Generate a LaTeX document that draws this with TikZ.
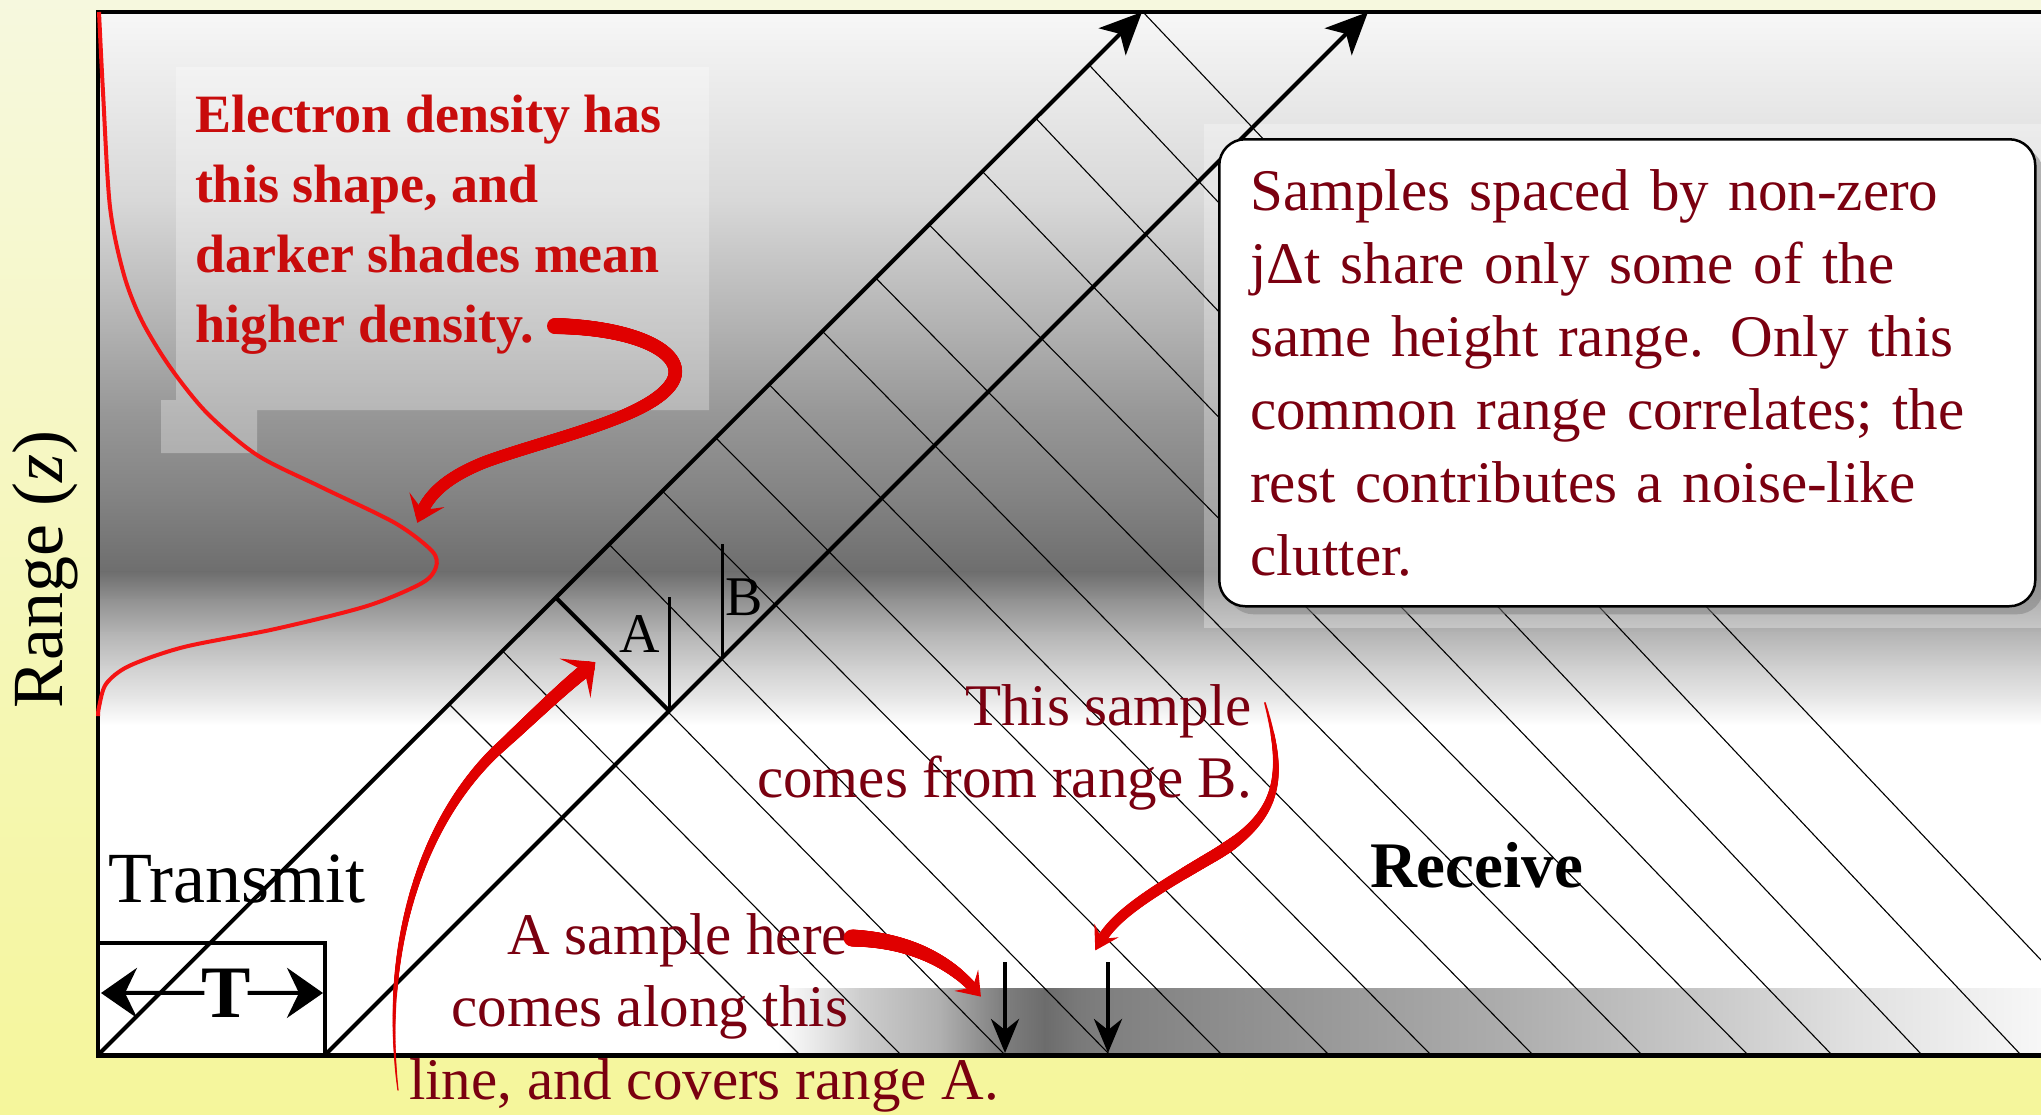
\documentclass[tikz,border=0pt]{standalone}
\usepackage{fontspec}
\setmainfont{Liberation Serif}
\usetikzlibrary{arrows.meta,shadows,decorations.markings}
\definecolor{darkmaroon}{RGB}{122,0,16}
\definecolor{txtred}{RGB}{200,12,12}
\definecolor{arrred}{RGB}{224,0,0}
\definecolor{densred}{RGB}{245,20,20}
\definecolor{bgtop}{RGB}{246,248,222}
\definecolor{bgbot}{RGB}{245,246,155}
\tikzset{
  txt/.style={inner sep=0pt, outer sep=0pt},
  thinln/.style={line width=1.1pt},
  vertln/.style={line width=3pt},
  frameln/.style={line width=4pt},
  maroontxt/.style={txt, text=darkmaroon, font=\fontsize{59}{72}\selectfont},
  taper/.style n args={6}{
    postaction={decoration={markings,
      mark=between positions 0 and 1 step 0.8pt with {%
        \pgfmathsetmacro\tpos{\pgfkeysvalueof{/pgf/decoration/mark info/distance from start}/\pgfdecoratedpathlength}%
        \pgfmathsetmacro\trad{(\tpos<0.5) ? (#1+(#2-#1)*2*\tpos)/2 : (#2+(#3-#2)*(2*\tpos-1))/2}%
        \fill[arrred] (0pt,0pt) circle[radius=\trad pt];}}, decorate},
    postaction={decoration={markings,
      mark=at position 0.999 with {\fill[arrred] (#4pt,0pt) -- (-#5pt,#6pt) -- (-0.25*#5pt,0pt) -- (-#5pt,-#6pt) -- cycle;}}, decorate}}
}
\begin{document}
\begin{tikzpicture}[x=1pt,y=-1pt]
\useasboundingbox (0,0) rectangle (2041,1114);
% yellow background
\shade[top color=bgtop, bottom color=bgbot] (0,0) rectangle (2041,1114);
% panel vertical gradient
\foreach \ya/\ga/\yb/\gb in {12/96.9/200/84.7, 200/84.7/333/69.0, 333/69.0/410/59.6, 410/59.6/500/51.0, 500/51.0/572/43.1, 572/43.1/600/56.9, 600/56.9/633/70.6, 633/70.6/667/81.6, 667/81.6/700/91.0, 700/91.0/725/100}
  \shade[top color=white!\ga!black, bottom color=white!\gb!black] (98,\ya-0.5) rectangle (2041,\yb+0.5);
\fill[white] (98,724.5) rectangle (2041,1055);
% bottom strip horizontal gradient
\foreach \xa/\ga/\xb/\gb in {778/100/860/80.4, 860/80.4/940/69.0, 940/69.0/1000/50.2, 1000/50.2/1045/42.4, 1045/42.4/1075/47.1, 1075/47.1/1110/50.2, 1110/50.2/1300/58.8, 1300/58.8/1500/67.5, 1500/67.5/1700/78.4, 1700/78.4/1850/87.8, 1850/87.8/2041/96.9}
  \shade[left color=white!\ga!black, right color=white!\gb!black] (\xa-0.5,988) rectangle (\xb+0.5,1055);
% lighter panels behind texts
\fill[white, opacity=0.3] (176,67) -- (709,67) -- (709,410) -- (257,410) -- (257,453) -- (161,453) -- (161,400) -- (176,400) -- cycle;
\fill[white, opacity=0.3] (1204,124) rectangle (2041,628);
% receive lines
\foreach \xs/\xe/\ye in {449/800/1055, 502.3/901/1055, 555.6/1005/1055, 608.9/1110/1055, 662.2/1222/1055, 715.5/1329/1055, 768.8/1431/1055, 822.1/1533/1055, 875.4/1642/1055, 928.7/1748/1055, 982/1832/1055, 1035.3/1922/1055, 1088.6/2021/1055, 1142/2041/960}
  \draw[thinln] (\xs,1153-\xs) -- (\xe,\ye);
% range A and B
\coordinate (Aa) at (555.6,597.4);
\coordinate (Ab) at (669.1,710.9);
\coordinate (At) at (669.1,597.4);
\coordinate (Bb) at (722.4,657.6);
\coordinate (Bt) at (722.4,544.1);
\draw[line width=4pt] (Aa) -- (Ab);
\draw[vertln] (Ab) -- (At);
\draw[vertln] (Bb) -- (Bt);
\node[txt, font=\fontsize{56}{60}\selectfont] (labA) at (640,634) {A};
\node[txt, font=\fontsize{56}{60}\selectfont] (labB) at (744,597) {B};
% transmit lines
\coordinate (t1s) at (98,1055);
\coordinate (t1e) at (1142,12);
\coordinate (t2s) at (325,1055);
\coordinate (t2e) at (1368,12);
\draw[line width=4pt, -{Stealth[length=42pt,width=38pt,inset=11pt]}] (t1s) -- (t1e);
\draw[line width=4pt, -{Stealth[length=42pt,width=38pt,inset=11pt]}] (t2s) -- (t2e);
% frame
\draw[frameln] (2041,12) -- (98,12) -- (98,1055);
\draw[line width=5pt] (96,1055) -- (2041,1055);
% transmit box
\draw[line width=4pt] (98,943) rectangle (325,1055);
\node[txt, font=\bfseries\fontsize{74}{80}\selectfont, anchor=base] (tl) at (226,1017) {T};
\coordinate (tarrL) at (101,993);
\coordinate (tarrR) at (323,993);
\draw[line width=4pt, -{Stealth[length=36pt,width=50pt,inset=12pt]}] ([xshift=3pt]tl.west) -- (tarrL);
\draw[line width=4pt, -{Stealth[length=36pt,width=50pt,inset=12pt]}] ([xshift=-3pt]tl.east) -- (tarrR);
% density curve
\draw[densred, line width=4pt] plot[smooth] coordinates {(99,12) (103,92) (110,207) (124,275) (142,321) (170,367) (207,413) (257,455) (321,487) (395,523) (432,551) (436,567) (422,583) (367,606) (275,629) (184,647) (129,666) (106,684) (99,707) (98,716)};
% labels
\node[txt, font=\fontsize{72}{80}\selectfont, anchor=base west] (tx) at (108,902) {Transmit};
\node[txt, font=\bfseries\fontsize{65}{72}\selectfont, anchor=base west] (rx) at (1370,887) {Receive};
\node[txt, font=\fontsize{72}{80}\selectfont, rotate=90, anchor=base] (rng) at (62,569.5) {Range (\textit{z})};
% note box
\node[draw=black, line width=2.5pt, fill=white, rounded corners=26pt,
      drop shadow={shadow xshift=8pt, shadow yshift=-8pt, opacity=0.5},
      minimum width=816pt, minimum height=467pt, text width=754pt, inner sep=0pt,
      align=left, text=darkmaroon, font=\fontsize{59}{73}\selectfont, anchor=north west] (note) at (1218,138)
  {Samples spaced by non-zero\\jΔt share only some of the\\same height range.\hspace{0.45em}Only this\\common range correlates; the\\rest contributes a noise-like\\clutter.};
% density text
\node[txt, text=txtred, font=\bfseries\fontsize{54}{70}\selectfont, align=left, anchor=west] (dens) at (195,224.5) {Electron density has\\this shape, and\\darker shades mean\\higher density.};
% maroon texts
\node[maroontxt, align=right, anchor=east] (smpB) at (1252,747) {This sample\\comes from range B.};
\node[maroontxt, align=right, anchor=east] (smpA) at (848,976.5) {A sample here\\comes along this};
\node[maroontxt, anchor=base west] (smpA2) at (409,1099) {line, and covers range A.};
% red tapered arrows
\coordinate (a1s) at (555,326);
\coordinate (a1e) at (421,514);
\path[taper={16}{12}{12}{10}{15}{19}] (a1s) .. controls (645,328) and (695,358) .. (668,388) .. controls (640,420) and (545,440) .. (485,462) .. controls (450,476) and (430,492) .. (a1e);
\coordinate (a2s) at (852,938);
\coordinate (a2e) at (975,990);
\path[taper={17}{14}{10}{9}{13}{16}] (a2s) .. controls (910,940) and (950,962) .. (a2e);
\coordinate (a3s) at (1265,703);
\coordinate (a3e) at (1100,942);
\path[taper={2}{12}{10}{10}{13}{14}] (a3s) .. controls (1285,775) and (1282,815) .. (1215,855) .. controls (1150,893) and (1115,915) .. (a3e);
\coordinate (a4s) at (398,1090);
\coordinate (a4e) at (588,668);
\path[taper={1.5}{8}{14}{10}{16}{25}] (a4s) .. controls (382,960) and (415,830) .. (495,752) .. controls (530,720) and (560,690) .. (a4e);
% sample arrows
\coordinate (sA1) at (1005,962);
\coordinate (sA2) at (1005,1053);
\coordinate (sB1) at (1108,962);
\coordinate (sB2) at (1108,1053);
\draw[line width=4.5pt, -{Stealth[length=34pt,width=28pt]}] (sA1) -- (sA2);
\draw[line width=4.5pt, -{Stealth[length=34pt,width=28pt]}] (sB1) -- (sB2);
\end{tikzpicture}
\end{document}
